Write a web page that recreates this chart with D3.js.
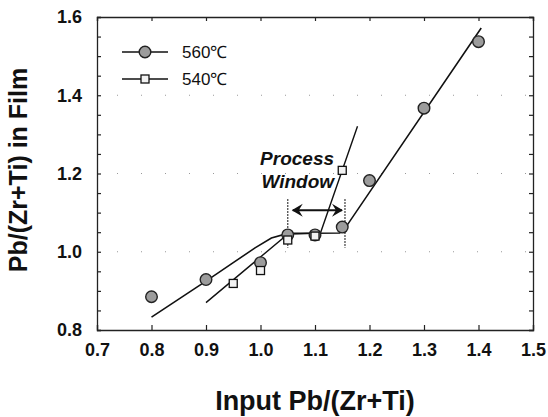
<!DOCTYPE html>
<html>
<head>
<meta charset="utf-8">
<script src="https://cdn.jsdelivr.net/npm/d3@7"></script>
<style>
  body { margin: 0; background: #fff; }
  svg { display: block; font-family: "Liberation Sans", Arial, sans-serif; }
</style>
</head>
<body>
<svg id="chart"></svg>
<script>
const WIDTH = 548, HEIGHT = 417;
const LEFT = 97, RIGHT = 533, TOP = 17, BOTTOM = 330; //frame of the plot

// measured points
const x560 = [0.8, 0.9, 1.0, 1.05, 1.1, 1.15, 1.2, 1.3, 1.4];
const y560 = [0.885, 0.929, 0.972, 1.043, 1.043, 1.063, 1.182, 1.367, 1.537];
const x540 = [0.95, 1.0, 1.05, 1.1, 1.15];
const y540 = [0.919, 0.952, 1.03, 1.04, 1.208];

// fitted guide lines drawn through the data
const fit560x = [0.8, 0.9, 0.95, 0.99, 1.02, 1.05, 1.145, 1.16, 1.405];
const fit560y = [0.833, 0.925, 0.972, 1.01, 1.035, 1.047, 1.048, 1.07, 1.572];
const fit540x = [0.9, 1.05, 1.11, 1.178];
const fit540y = [0.87, 1.045, 1.048, 1.321];

// process window annotation (data units)
const windowX = [1.05, 1.155];
const windowY = [1.01, 1.134];
const arrowY = 1.106;

const xTicks = [0.7, 0.8, 0.9, 1.0, 1.1, 1.2, 1.3, 1.4, 1.5];
const yTicks = [0.8, 1.0, 1.2, 1.4, 1.6];
const yMinor = d3.range(0.8, 1.6001, 0.05);
const gridY = [1.0, 1.2, 1.4];

const series = ["560\u2103", "540\u2103"];

const svg = d3.select("#chart").attr("width", WIDTH).attr("height", HEIGHT);

const x = d3.scaleLinear().domain([0.7, 1.5]).range([LEFT, RIGHT]);
const y = d3.scaleLinear().domain([0.8, 1.6]).range([BOTTOM, TOP]);

// faint dotted grid
svg.append("g").selectAll("line").data(gridY).enter().append("line")
  .attr("x1", LEFT + 20).attr("x2", RIGHT)
  .attr("y1", d => y(d)).attr("y2", d => y(d))
  .attr("stroke", "#999").attr("stroke-width", 1)
  .attr("stroke-dasharray", "1,23");

// axes (ticks inside)
const fmt = d3.format(".1f");
const xAxis = svg.append("g").attr("transform", "translate(0," + BOTTOM + ")")
  .call(d3.axisBottom(x).tickValues(xTicks).tickSize(-5).tickPadding(13).tickFormat(fmt));
const xTop = svg.append("g").attr("transform", "translate(0," + TOP + ")")
  .call(d3.axisTop(x).tickValues(xTicks).tickSize(-4).tickFormat(""));
const yAxis = svg.append("g").attr("transform", "translate(" + LEFT + ",0)")
  .call(d3.axisLeft(y).tickValues(yMinor).tickSize(-4).tickPadding(15)
    .tickFormat(d => yTicks.some(t => Math.abs(t - d) < 1e-6) ? fmt(d) : ""));
const yRight = svg.append("g").attr("transform", "translate(" + RIGHT + ",0)")
  .call(d3.axisRight(y).tickValues(yMinor).tickSize(-4).tickFormat(""));

[xAxis, xTop, yAxis, yRight].forEach(g => {
  g.select(".domain").attr("stroke", "#222").attr("stroke-width", 1.3);
  g.selectAll(".tick line").attr("stroke", "#222").attr("stroke-width", 1.2);
  g.selectAll("text").attr("fill", "#111").style("font-size", "18px").style("font-weight", "bold");
});
xAxis.selectAll("text").attr("dy", "0.71em");

// fit lines
const line = d3.line().x(d => x(d[0])).y(d => y(d[1]));
svg.append("path").datum(d3.zip(fit560x, fit560y))
  .attr("d", line).attr("fill", "none").attr("stroke", "#111").attr("stroke-width", 1.6);
svg.append("path").datum(d3.zip(fit540x, fit540y))
  .attr("d", line).attr("fill", "none").attr("stroke", "#111").attr("stroke-width", 1.4);

// process window dotted lines
svg.append("g").selectAll("line").data(windowX).enter().append("line")
  .attr("x1", d => x(d)).attr("x2", d => x(d))
  .attr("y1", y(windowY[1])).attr("y2", y(windowY[0]))
  .attr("stroke", "#111").attr("stroke-width", 1.3).attr("stroke-dasharray", "1.5,1.5");

// double arrow
const defs = svg.append("defs");
["arrowEnd", "arrowStart"].forEach((id, i) => {
  defs.append("marker").attr("id", id)
    .attr("viewBox", "-10 -7 12 14").attr("markerWidth", 12).attr("markerHeight", 14)
    .attr("markerUnits", "userSpaceOnUse").attr("refX", 0).attr("refY", 0)
    .attr("orient", i === 0 ? "auto" : "auto-start-reverse")
    .append("path").attr("d", "M1,0 L-10,-6.5 L-6,0 L-10,6.5 Z").attr("fill", "#111");
});
svg.append("line")
  .attr("x1", x(windowX[0]) + 5).attr("x2", x(windowX[1]) - 3)
  .attr("y1", y(arrowY)).attr("y2", y(arrowY))
  .attr("stroke", "#111").attr("stroke-width", 2)
  .attr("marker-start", "url(#arrowStart)").attr("marker-end", "url(#arrowEnd)");

// annotation text, two lines set close together like the original
["Process", "Window"].forEach((t, i) => {
  svg.append("text")
    .attr("x", x(1.135)).attr("y", y(i === 0 ? 1.222 : 1.164))
    .attr("text-anchor", "end")
    .style("font-size", "19px").style("font-weight", "bold").style("font-style", "italic")
    .attr("fill", "#111").text(t);
});

// markers
svg.append("g").selectAll("circle").data(d3.zip(x560, y560)).enter().append("circle")
  .attr("cx", d => x(d[0])).attr("cy", d => y(d[1])).attr("r", 5.8)
  .attr("fill", "#9c9c9c").attr("stroke", "#222").attr("stroke-width", 1.4);
svg.append("g").selectAll("rect").data(d3.zip(x540, y540)).enter().append("rect")
  .attr("x", d => x(d[0]) - 4).attr("y", d => y(d[1]) - 4)
  .attr("width", 8).attr("height", 8)
  .attr("fill", "#f2f2f2").attr("stroke", "#111").attr("stroke-width", 1.3);

// legend
const legend = svg.append("g").attr("transform", "translate(122,52)");
series.forEach((name, i) => {
  const g = legend.append("g").attr("transform", "translate(0," + (i * 27) + ")");
  g.append("line").attr("x1", 0).attr("x2", 46).attr("stroke", "#111").attr("stroke-width", 1.4);
  if (i === 0) {
    g.append("circle").attr("cx", 23).attr("r", 5.8)
      .attr("fill", "#9c9c9c").attr("stroke", "#222").attr("stroke-width", 1.4);
  } else {
    g.append("rect").attr("x", 19).attr("y", -4).attr("width", 8).attr("height", 8)
      .attr("fill", "#f2f2f2").attr("stroke", "#111").attr("stroke-width", 1.3);
  }
  g.append("text").attr("x", 60).attr("y", 6).style("font-size", "17px")
    .attr("fill", "#111").text(name);
});

// axis titles
svg.append("text")
  .attr("x", (LEFT + RIGHT) / 2).attr("y", 410)
  .attr("text-anchor", "middle")
  .style("font-size", "27px").style("font-weight", "bold")
  .attr("fill", "#111").text("Input Pb/(Zr+Ti)");
svg.append("text")
  .attr("transform", "translate(27,170) rotate(-90)")
  .attr("text-anchor", "middle")
  .style("font-size", "25px").style("font-weight", "bold")
  .attr("fill", "#111").text("Pb/(Zr+Ti) in Film");
</script>
</body>
</html>
